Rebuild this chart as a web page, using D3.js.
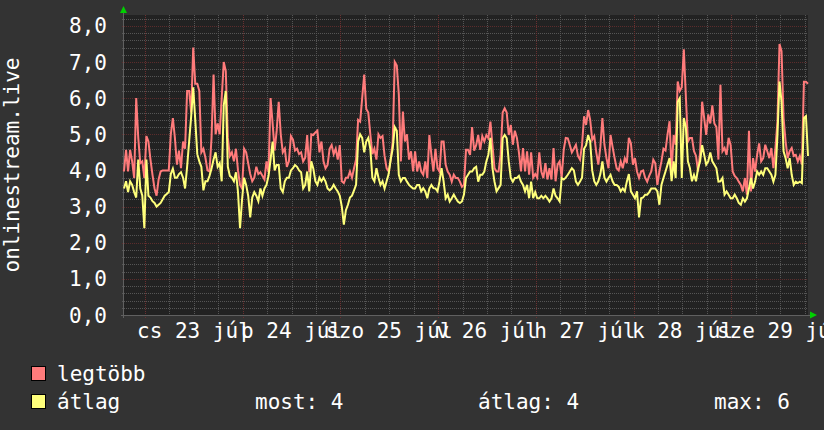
<!DOCTYPE html>
<html>
<head>
<meta charset="utf-8">
<script src="https://cdn.jsdelivr.net/npm/d3@7"></script>
<style>
  html, body { margin: 0; padding: 0; background: #333333; }
  svg { display: block; }
  text { font-family: "DejaVu Sans Mono", monospace; fill: #ffffff; }
</style>
</head>
<body>
<div id="chart"></div>
<script>
// one week, 30 minute steps, starting at the left edge of the canvas
const START_TIME = new Date(2020, 6, 22, 18, 50);
const STEP_MINUTES = 30;

// "legtöbb" (max) series
const maxValues = [
  3.97, 4.57, 3.97, 4.57, 4.25, 3.79, 6.0, 4.9, 4.2, 4.25, 3.79,
  4.95, 4.8, 4.3, 3.88, 3.5, 3.3, 3.75, 3.97, 4.0, 4.0, 4.0,
  4.0, 5.0, 5.45, 4.9, 4.16, 4.55, 4.06, 4.8, 4.6, 6.2, 6.2,
  5.6, 7.4, 6.4, 6.4, 6.2, 4.5, 4.6, 4.35, 4.0, 3.97, 4.9,
  6.65, 5.0, 5.3, 5.0, 6.0, 7.0, 6.75, 4.9, 4.4, 4.5, 4.25,
  4.6, 4.0, 3.6, 3.5, 4.6, 4.5, 4.2, 3.9, 3.7, 3.8, 4.1,
  3.9, 3.95,
  3.85, 3.75, 4.25, 3.95, 6.0, 5.3, 4.55, 5.1, 5.9, 5.0, 4.5,
  4.6, 4.1, 4.25, 4.95, 4.85, 4.55, 4.6, 4.45, 4.5, 4.25, 4.35,
  4.98, 3.95, 5.0, 4.98, 5.05, 5.1, 4.5, 4.8, 4.25, 4.06, 4.15,
  4.6, 4.7, 4.45, 4.6, 4.3, 4.7, 3.7, 3.65, 3.8, 3.8, 3.97,
  3.8, 4.06, 4.3, 5.4, 5.35, 6.0, 6.65, 5.7, 5.6, 5.0, 4.45,
  4.6, 4.3, 5.0, 4.9, 4.95, 4.4, 4.06, 3.97, 4.3, 4.8, 7.0,
  6.9,
  6.1, 4.25, 5.63, 4.8, 5.0, 4.3, 4.53, 3.97, 4.53, 3.97, 4.25,
  3.97, 3.88, 4.25, 3.79, 4.98, 4.43, 3.97, 4.6, 4.06, 3.97, 4.8,
  4.8, 4.16, 3.97, 3.88, 3.69, 3.88, 3.79, 3.79, 3.69, 3.55, 3.6,
  4.57, 4.57, 4.43, 5.2, 4.55, 4.7, 4.98, 4.57, 4.95, 4.8, 4.98,
  4.89, 5.35, 4.7, 4.06, 3.97, 3.97, 4.43, 5.6, 5.72, 5.6, 4.98,
  5.26, 4.71, 5.1, 4.9, 4.5, 3.97, 4.62, 3.97, 4.53, 3.88, 4.5,
  3.8,
  3.9, 3.8, 4.5, 3.97, 3.79, 4.2, 3.75, 4.06, 3.75, 4.62, 3.7,
  4.16, 4.25, 3.8, 4.57, 4.9, 4.89, 4.7, 4.5, 4.6, 4.71, 4.4,
  4.3, 4.7, 5.5, 5.26, 5.67, 5.4, 4.85, 4.95, 4.5, 4.16, 4.65,
  5.45, 4.71, 4.34, 4.06, 4.98, 4.65, 4.34, 4.06, 4.0, 4.25, 4.06,
  4.34, 4.2, 4.9, 4.75, 4.16, 4.34, 3.97, 3.79, 3.97, 4.0, 3.8,
  3.69, 3.85, 3.97, 4.3, 4.2, 3.6, 3.97, 4.25, 4.6, 4.55, 5.0,
  5.36,
  3.97, 4.98, 4.71, 6.46, 6.2, 6.3, 7.35, 6.05, 4.8, 4.9, 4.9,
  4.53, 4.4, 3.97, 4.5, 5.9, 5.45, 4.98, 5.55, 5.3, 5.8, 5.3,
  5.2, 4.3, 6.37, 4.53, 4.62, 4.43, 4.9, 4.7, 3.97, 3.85, 3.79,
  3.69, 3.6, 3.42, 3.79, 3.33, 5.1, 3.42, 4.34, 3.97, 4.43, 4.75,
  4.25, 4.34, 4.71, 4.53, 4.34, 4.62, 4.06, 4.62, 5.36, 7.5, 7.3,
  5.45, 4.8, 4.34, 4.53, 4.62, 4.4, 4.43, 4.25, 4.4, 4.16, 6.45,
  6.45, 6.4
];

// "átlag" (average) series
const avgValues = [
  3.5, 3.7, 3.4, 3.7, 3.6, 3.4, 3.25, 4.3, 3.5, 3.3, 2.4,
  4.3, 3.3, 3.25, 3.15, 3.1, 3.0, 3.05, 3.1, 3.2, 3.3, 3.35,
  3.4, 3.9, 4.05, 3.8, 3.8, 3.9, 3.95, 3.8, 3.5, 4.1, 4.8,
  5.5, 6.3, 5.4, 4.45, 4.25, 4.1, 3.45, 3.7, 3.7, 3.85, 4.05,
  4.3, 4.5, 4.1, 4.2, 3.7, 5.8, 6.2, 4.1, 3.85, 3.8, 3.7,
  3.95, 3.4, 2.4, 3.2, 3.8, 3.6, 3.3, 2.7, 3.25, 3.4, 3.3,
  3.15, 3.5,
  3.3, 3.5, 3.6, 3.85, 4.3, 4.8, 4.0, 4.15, 4.15, 3.5, 3.4,
  3.7, 3.8, 3.8, 4.0, 4.06, 4.15, 4.1, 4.0, 3.95, 3.5, 3.6,
  3.97, 3.42, 4.25, 4.05, 3.7, 3.6, 3.8, 3.7, 3.8, 3.69, 3.5,
  3.45, 3.5, 3.6, 3.5, 3.42, 3.3, 3.0, 2.5, 2.9, 3.05, 3.25,
  3.3, 3.45, 3.6, 4.8, 5.0, 4.9, 4.5, 4.8, 4.9, 4.6, 3.8,
  3.7, 4.06, 3.8, 3.6, 3.7, 3.5, 3.7, 3.9, 4.3, 4.6, 5.2,
  5.1,
  3.88, 3.7, 3.79, 3.79, 3.69, 3.6, 3.55, 3.5, 3.5, 3.6, 3.6,
  3.42, 3.51, 3.42, 3.23, 3.5, 3.6, 3.51, 3.5, 3.42, 3.7, 4.06,
  3.7, 3.23, 3.33, 3.14, 3.23, 3.33, 3.23, 3.14, 3.1, 3.14, 3.33,
  3.79, 3.88, 3.97, 3.97, 4.06, 4.1, 3.69, 3.88, 3.88, 3.97, 4.25,
  4.43, 4.9, 4.06, 3.69, 3.42, 3.51, 3.6, 4.89, 4.98, 4.89, 4.25,
  3.79, 3.69, 3.79, 3.79, 3.85, 3.69, 3.6, 3.42, 3.6, 3.23, 3.69,
  3.23,
  3.4, 3.23, 3.23, 3.3, 3.23, 3.3, 3.23, 3.14, 3.23, 3.5, 3.3,
  3.23, 3.14, 3.79, 3.75, 3.8, 3.88, 3.97, 4.06, 4.0, 3.69, 3.6,
  3.69, 3.8, 4.6, 4.7, 4.98, 4.8, 4.0, 3.7, 3.6, 3.7, 3.9,
  4.25, 3.8, 3.69, 3.79, 3.88, 3.7, 3.6, 3.6, 3.55, 3.42, 3.5,
  3.42, 3.69, 3.9, 3.42, 3.33, 3.23, 3.42, 2.7, 3.23, 3.25, 3.33,
  3.33, 3.4, 3.5, 3.5, 3.5, 3.42, 3.05, 3.6, 3.79, 3.97, 4.16,
  4.34,
  3.7, 4.25, 3.79, 5.9, 6.0, 3.79, 5.45, 5.2, 4.25, 4.06, 3.7,
  3.88, 3.7, 4.06, 4.25, 4.7, 4.43, 4.16, 4.25, 4.5, 4.25, 4.16,
  4.06, 3.69, 3.7, 3.79, 3.33, 3.42, 3.33, 3.23, 3.23, 3.33, 3.23,
  3.1, 3.05, 3.23, 3.14, 3.23, 3.5, 3.79, 3.5, 3.69, 3.97, 3.88,
  3.97, 3.88, 4.06, 4.06, 3.97, 3.88, 3.69, 3.88, 4.98, 6.46, 5.9,
  4.53, 4.34, 4.06, 4.34, 3.88, 3.6, 3.69, 3.65, 3.69, 3.65, 5.45,
  5.5, 4.4
];

const yAxisTitle = "onlinestream.live";
const seriesNames = ["legtöbb", "átlag"];
const seriesColors = ["#ff7b7b", "#ffff7b"];
const statLabels = ["most: 4", "átlag: 4", "max: 6"];

const huTime = d3.timeFormatLocale({
  dateTime: "%Y. %B %-e., %A %X",
  date: "%Y. %m. %d.",
  time: "%H:%M:%S",
  periods: ["de.", "du."],
  days: ["vasárnap", "hétfő", "kedd", "szerda", "csütörtök", "péntek", "szombat"],
  shortDays: ["v", "h", "k", "sze", "cs", "p", "szo"],
  months: ["január", "február", "március", "április", "május", "június", "július", "augusztus", "szeptember", "október", "november", "december"],
  shortMonths: ["jan", "febr", "márc", "ápr", "máj", "jún", "júl", "aug", "szept", "okt", "nov", "dec"],
});
const huNumber = d3.formatLocale({ decimal: ",", thousands: " ", grouping: [3], currency: ["", " Ft"] });
const formatTick = huNumber.format(".1f");
const formatDay = huTime.format("%a %d %b");

function drawChart() {
  const width = 824;
  const height = 430;
  const plot = { left: 124, right: 808, top: 15, bottom: 315 };
  const fontSize = 21;

  const times = maxValues.map((_, i) => d3.timeMinute.offset(START_TIME, i * STEP_MINUTES));
  const endTime = d3.timeMinute.offset(START_TIME, (maxValues.length - 1) * STEP_MINUTES);

  const x = d3.scaleTime().domain([START_TIME, endTime]).range([plot.left, plot.right]);
  const y = d3.scaleLinear().domain([0, 8.3]).range([plot.bottom, plot.top]);
  const crisp = (v) => Math.round(v) + 0.5;

  const svg = d3.select("#chart").append("svg").attr("width", width).attr("height", height);
  svg.append("rect").attr("width", width).attr("height", height).attr("fill", "#333333");
  svg
    .append("rect")
    .attr("x", plot.left)
    .attr("y", plot.top)
    .attr("width", plot.right - plot.left)
    .attr("height", plot.bottom - plot.top)
    .attr("fill", "#222222");

  const grid = svg.append("g").attr("shape-rendering", "crispEdges").attr("stroke-dasharray", "1,1");

  // minor grid
  const minorY = d3.range(0.2, 8.3, 0.2).filter((v) => Math.abs(v - Math.round(v)) > 0.01);
  grid
    .selectAll("line.minor-y")
    .data(minorY)
    .join("line")
    .attr("x1", plot.left - 2)
    .attr("x2", plot.right)
    .attr("y1", (d) => crisp(y(d)))
    .attr("y2", (d) => crisp(y(d)))
    .attr("stroke", "#555555");

  const sixHours = d3.timeHour.every(6).range(START_TIME, endTime).filter((t) => t.getHours() !== 0);
  grid
    .selectAll("line.minor-x")
    .data(sixHours)
    .join("line")
    .attr("x1", (d) => crisp(x(d)))
    .attr("x2", (d) => crisp(x(d)))
    .attr("y1", plot.top)
    .attr("y2", plot.bottom + 2)
    .attr("stroke", "#555555");

  // major grid
  grid
    .selectAll("line.major-y")
    .data(d3.range(1, 9))
    .join("line")
    .attr("x1", plot.left - 2)
    .attr("x2", plot.right)
    .attr("y1", (d) => crisp(y(d)))
    .attr("y2", (d) => crisp(y(d)))
    .attr("stroke", "#5c2c2c");

  const days = d3.timeDay.range(START_TIME, endTime);
  grid
    .selectAll("line.major-x")
    .data(days)
    .join("line")
    .attr("x1", (d) => crisp(x(d)))
    .attr("x2", (d) => crisp(x(d)))
    .attr("y1", plot.top)
    .attr("y2", plot.bottom + 3)
    .attr("stroke", "#6a3030");

  // axes
  const axes = svg.append("g").attr("shape-rendering", "crispEdges").attr("stroke", "#606060");
  axes.append("line").attr("x1", plot.left - 3).attr("x2", plot.right + 2).attr("y1", crisp(y(0))).attr("y2", crisp(y(0)));
  axes.append("line").attr("x1", plot.left - 0.5).attr("x2", plot.left - 0.5).attr("y1", plot.top - 3).attr("y2", plot.bottom + 3);

  svg
    .append("path")
    .attr("d", `M${plot.left - 4},${plot.top - 2}L${plot.left + 3},${plot.top - 2}L${plot.left - 0.5},${plot.top - 9}Z`)
    .attr("fill", "#00d000");
  svg
    .append("path")
    .attr("d", `M${plot.right + 2},${crisp(y(0)) - 4}L${plot.right + 2},${crisp(y(0)) + 3}L${plot.right + 9},${crisp(y(0)) - 0.5}Z`)
    .attr("fill", "#00d000");

  // y tick labels
  svg
    .append("g")
    .selectAll("text")
    .data(d3.range(0, 9))
    .join("text")
    .attr("x", 107)
    .attr("y", (d) => y(d))
    .attr("dy", "0.36em")
    .attr("text-anchor", "end")
    .attr("font-size", fontSize)
    .text((d) => formatTick(d));

  // x labels at noon
  const noons = days.map((d) => d3.timeHour.offset(d, 12)).filter((d) => d <= endTime);
  svg
    .append("g")
    .selectAll("text")
    .data(noons)
    .join("text")
    .attr("x", (d) => x(d))
    .attr("y", 338)
    .attr("text-anchor", "middle")
    .attr("font-size", fontSize)
    .text((d) => formatDay(d));

  // y axis title
  svg
    .append("text")
    .attr("transform", `translate(19, ${(plot.top + plot.bottom) / 2}) rotate(-90)`)
    .attr("text-anchor", "middle")
    .attr("font-size", fontSize)
    .text(yAxisTitle);

  // series
  const series = [maxValues, avgValues];
  const line = d3
    .line()
    .x((d, i) => x(times[i]))
    .y((d) => y(d));
  series.forEach((values, idx) => {
    svg
      .append("path")
      .datum(values)
      .attr("fill", "none")
      .attr("stroke", seriesColors[idx])
      .attr("stroke-width", 2)
      .attr("stroke-linejoin", "miter")
      .attr("d", line);
  });

  // legend
  const legend = svg.append("g");
  seriesNames.forEach((name, idx) => {
    const rowY = 366 + idx * 28;
    legend
      .append("rect")
      .attr("x", 31.5)
      .attr("y", rowY + 0.5)
      .attr("width", 14)
      .attr("height", 14)
      .attr("fill", seriesColors[idx])
      .attr("stroke", "#000000")
      .attr("stroke-width", 1);
    legend
      .append("text")
      .attr("x", 57)
      .attr("y", rowY + 15)
      .attr("font-size", fontSize)
      .text(name);
  });
  const statX = [255, 478, 714];
  statLabels.forEach((label, idx) => {
    legend
      .append("text")
      .attr("x", statX[idx])
      .attr("y", 366 + 28 + 15)
      .attr("font-size", fontSize)
      .text(label);
  });
}

drawChart();
</script>
</body>
</html>
